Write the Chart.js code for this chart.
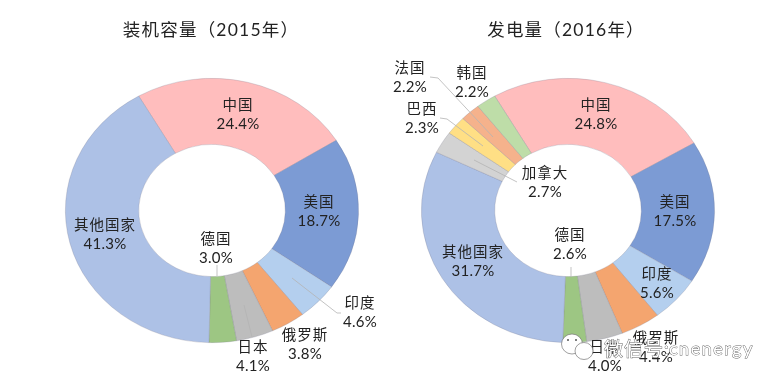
<!DOCTYPE html>
<html>
<head>
<meta charset="utf-8">
<style>
    html, body { margin: 0; padding: 0; background: #fff; overflow: hidden; }
    #wrap { position: relative; width: 775px; height: 383px; }
    .box { position: absolute; top: 0; height: 383px; }
    #box1 { left: 0; width: 412px; }
    #box2 { left: 350px; width: 425px; }
</style>
<script src="https://cdn.jsdelivr.net/npm/chart.js@4"></script>
</head>
<body>
<div id="wrap">
    <div class="box" id="box1"><canvas id="capacityChart"></canvas></div>
    <div class="box" id="box2"><canvas id="generationChart"></canvas></div>
</div>
<script>
// Data
const capacityTitle = '装机容量（2015年）';
const capacityNames = ['中国', '美国', '印度', '俄罗斯', '日本', '德国', '其他国家'];
const capacityShare = [24.4, 18.7, 4.6, 3.8, 4.1, 3.0, 41.3];

const generationTitle = '发电量（2016年）';
const generationNames = ['中国', '美国', '印度', '俄罗斯', '日本', '德国', '其他国家', '加拿大', '巴西', '法国', '韩国'];
const generationShare = [24.8, 17.5, 5.6, 4.4, 4.0, 2.6, 31.7, 2.7, 2.3, 2.2, 2.2];

const sliceColors = {
    '中国': '#ffbdbd', '美国': '#7c9bd4', '印度': '#b4cfee', '俄罗斯': '#f4a56f',
    '日本': '#bdbdbd', '德国': '#9dc683', '其他国家': '#adc1e6', '加拿大': '#d3d3d3',
    '巴西': '#ffdf85', '法国': '#f5b28c', '韩国': '#bedda8'
};

// Label centres on the page, hand placed like in the original
const capacityLabelPos = [[238, 105], [319, 202], [360, 303], [305, 335], [253, 347], [216, 239], [105, 225]];
const generationLabelPos = [[596, 105], [675, 202], [657, 274], [656, 338], [605, 347], [570, 235], [473, 252], [545, 173], [422, 109], [410, 68], [472, 73]];

// Leader lines on the page
const capacityLeaders = [
    [[292, 278], [337, 313], [341, 313]],
    [[244, 305], [252, 337]],
    [[217, 265], [217, 276]]
];
const generationLeaders = [
    [[430, 77], [438, 78], [493, 137]],
    [[440, 118], [447, 119], [483, 146]],
    [[474, 160], [517, 182]],
    [[571, 267], [571, 277]]
];

const FONT = 'Lato, "Noto Sans CJK SC", sans-serif';
const SQUASH_X = 147 / 132.5; // the original rings are wider than tall

// The rings are ellipses, so stretch the context while the arcs draw
const stretchPlugin = {
    id: 'stretch',
    beforeDatasetsDraw(chart) {
        const arc = chart.getDatasetMeta(0).data[0];
        const ctx = chart.ctx;
        ctx.save();
        ctx.translate(arc.x, arc.y);
        ctx.scale(SQUASH_X, 1);
        ctx.translate(-arc.x, -arc.y);
    },
    afterDatasetsDraw(chart) {
        chart.ctx.restore();
    }
};

// Title, slice labels and leader lines
const textPlugin = {
    id: 'texts',
    afterDraw(chart, args, opts) {
        const ctx = chart.ctx;
        const names = chart.data.labels;
        const values = chart.data.datasets[0].data;
        ctx.save();
        ctx.translate(-opts.offsetX, 0);

        ctx.strokeStyle = '#b4b4b4';
        ctx.lineWidth = 0.8;
        opts.leaders.forEach(line => {
            ctx.beginPath();
            line.forEach((p, i) => i ? ctx.lineTo(p[0], p[1]) : ctx.moveTo(p[0], p[1]));
            ctx.stroke();
        });

        ctx.fillStyle = '#222';
        ctx.textAlign = 'center';
        ctx.textBaseline = 'middle';
        ctx.font = '17.5px ' + FONT;
        ctx.letterSpacing = '1.2px';
        ctx.fillText(opts.title, opts.titleX, 30);

        names.forEach((name, i) => {
            const p = opts.labelPos[i];
            ctx.font = '14.5px ' + FONT;
            ctx.letterSpacing = '1px';
            ctx.fillText(name, p[0], p[1]);
            ctx.font = '15px ' + FONT;
            ctx.letterSpacing = '0.3px';
            ctx.fillText(values[i].toFixed(1) + '%', p[0], p[1] + 19);
        });
        ctx.restore();
    }
};

// WeChat watermark over the second ring
const watermarkPlugin = {
    id: 'watermark',
    afterDraw(chart, args, opts) {
        if (!opts.show) return;
        const ctx = chart.ctx;
        ctx.save();
        ctx.translate(-opts.offsetX, 0);
        ctx.fillStyle = '#fff';
        ctx.strokeStyle = '#777';
        ctx.lineWidth = 0.7;
        [[572, 344, 10.5, 10], [584, 351, 9, 8.5]].forEach(b => {
            ctx.beginPath();
            ctx.ellipse(b[0], b[1], b[2], b[3], 0, 0, Math.PI * 2);
            ctx.fill();
            ctx.stroke();
        });
        ctx.fillStyle = '#555';
        [[568, 340], [576, 340]].forEach(e => {
            ctx.beginPath();
            ctx.arc(e[0], e[1], 1, 0, Math.PI * 2);
            ctx.fill();
        });
        ctx.fillStyle = '#fff';
        ctx.strokeStyle = '#666';
        ctx.lineWidth = 0.9;
        ctx.textAlign = 'left';
        ctx.textBaseline = 'middle';
        ctx.font = '19px ' + FONT;
        ctx.letterSpacing = '1px';
        ctx.strokeText('微信号:', 604, 350);
        ctx.fillText('微信号:', 604, 350);
        ctx.font = '18px ' + FONT;
        ctx.letterSpacing = '1.5px';
        ctx.strokeText('cnenergy', 669, 349);
        ctx.fillText('cnenergy', 669, 349);
        ctx.restore();
    }
};

function makeRing(id, width, padLeft, title, titleX, names, share, labelPos, leaders, watermark) {
    const canvas = document.getElementById(id);
    canvas.width = width;
    canvas.height = 383;
    return new Chart(canvas, {
        type: 'doughnut',
        data: {
            labels: names,
            datasets: [{
                data: share,
                backgroundColor: names.map(n => sliceColors[n]),
                borderColor: 'rgba(120,120,140,0.35)',
                borderWidth: 0.7
            }]
        },
        options: {
            responsive: false,
            animation: false,
            events: [],
            rotation: -30,
            cutout: '50%',
            layout: { padding: { left: padLeft, right: 0, top: 78, bottom: 40 } },
            plugins: {
                legend: { display: false },
                tooltip: { enabled: false },
                texts: { title: title, titleX: titleX, labelPos: labelPos, leaders: leaders, offsetX: id === 'capacityChart' ? 0 : 350 },
                watermark: { show: watermark, offsetX: 350 }
            }
        },
        plugins: [stretchPlugin, textPlugin, watermarkPlugin]
    });
}

window.addEventListener('DOMContentLoaded', () => {
    makeRing('capacityChart', 412, 12, capacityTitle, 211, capacityNames, capacityShare, capacityLabelPos, capacityLeaders, false);
    makeRing('generationChart', 425, 11, generationTitle, 566, generationNames, generationShare, generationLabelPos, generationLeaders, true);
});
</script>
</body>
</html>
